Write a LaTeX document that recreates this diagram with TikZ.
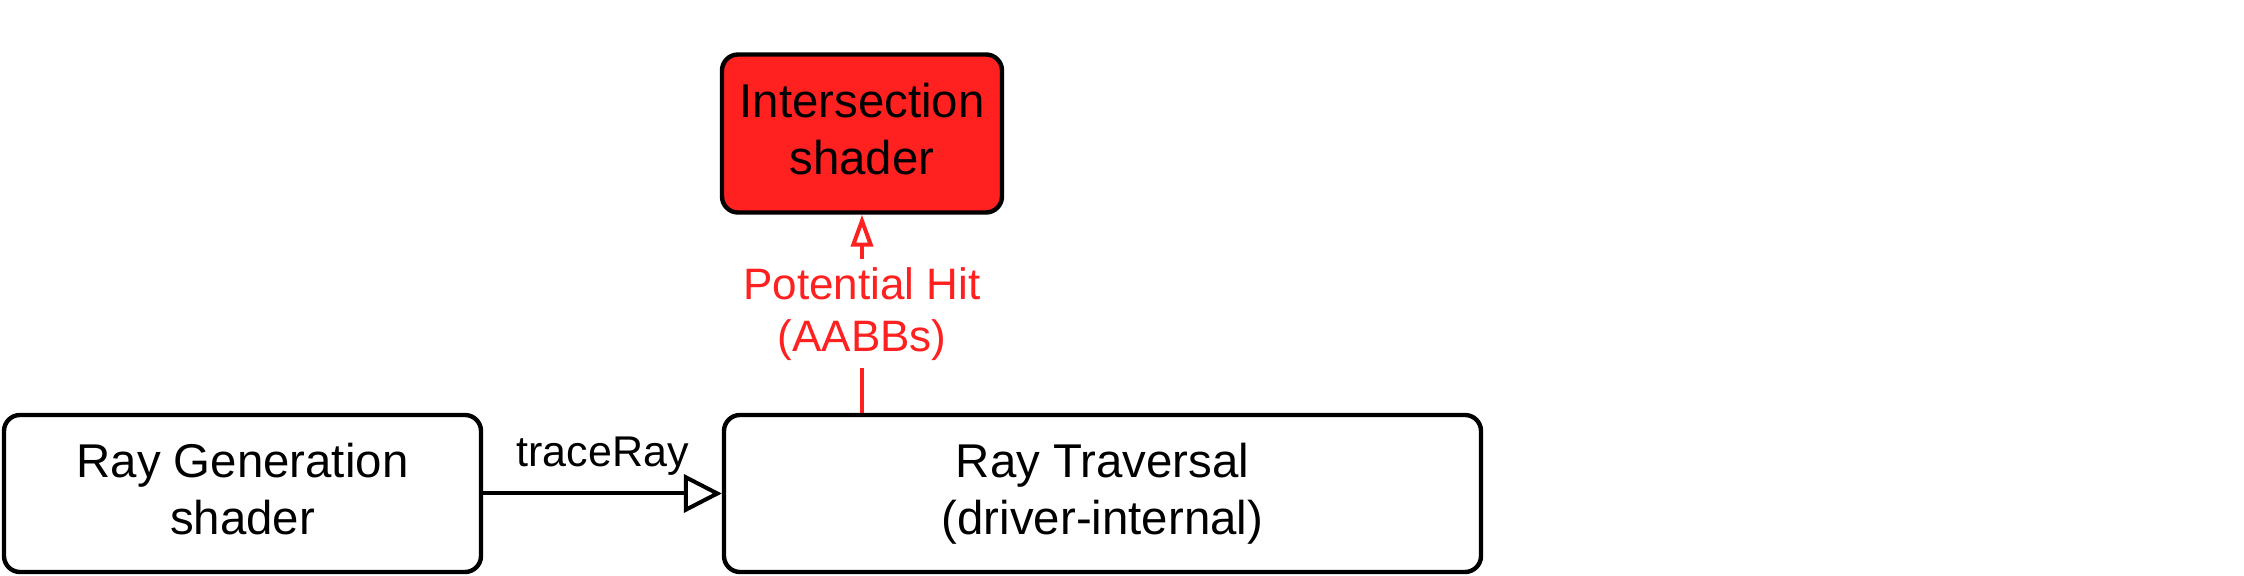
\documentclass[tikz,border=0pt]{standalone}
\usepackage{fontspec}
\setmainfont{Liberation Sans}
\usetikzlibrary{arrows.meta}
\definecolor{hitred}{RGB}{255,32,32}
\newcommand{\dstrut}{\rule[-5pt]{0pt}{5pt}}
\tikzset{
  box/.style={draw=black, line width=2.2pt, rounded corners=8pt, align=center,
    inner sep=0pt, font=\fontsize{23.7}{28.5}\selectfont},
  flow/.style={draw=black, line width=2pt, -{Triangle[open, length=19pt, width=19pt, line width=2pt]}},
  lbl/.style={font=\fontsize{21.5}{24}\selectfont, inner sep=0pt},
  hit/.style={draw=hitred, line width=2pt, -{Triangle[open, length=16pt, width=11pt, line width=2pt]}},
  hitlbl/.style={font=\fontsize{22}{26}\selectfont, text=hitred, fill=white, align=center, inner ysep=4pt, inner xsep=0pt}
}
\begin{document}
\begin{tikzpicture}[x=0.5pt, y=-0.5pt]
\useasboundingbox (0,0) rectangle (2244,576);
\node[box, fill=hitred, minimum width=140pt, minimum height=79pt] (inter) at (862,133.5) {Intersection\\shader\dstrut};
\node[box, minimum width=238.5pt, minimum height=78.5pt] (gen) at (242.5,493.5) {Ray Generation\\shader\dstrut};
\node[box, minimum width=378.5pt, minimum height=78.5pt] (trav) at (1102.5,493.5) {Ray Traversal\\(driver-internal)};
\draw[flow] (gen.east) -- node[lbl, anchor=base, yshift=13.5pt] (tr) {traceRay} (trav.west);
\draw[hit] (inter.south |- trav.north) -- node[hitlbl] (ph) {Potential Hit\\(AABBs)} (inter.south);
\end{tikzpicture}
\end{document}
